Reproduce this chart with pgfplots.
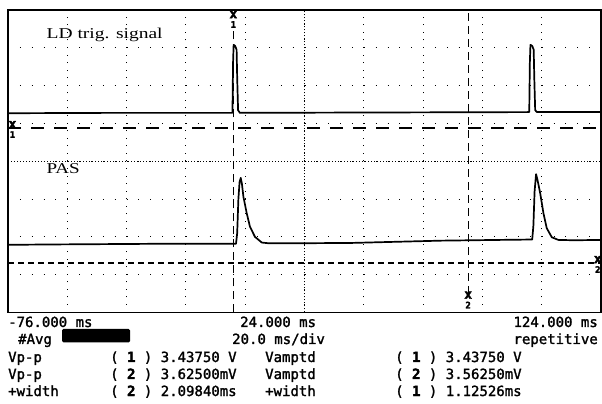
\documentclass[border=0pt]{standalone}
\usepackage{fontspec}
\setmainfont{Liberation Serif}
\newfontfamily\osc[FakeBold=1.6]{DejaVu Sans Mono}
\newfontfamily\oscb[FakeBold=2.5]{DejaVu Sans Mono Bold}
\usepackage{pgfplots}
\pgfplotsset{compat=1.18}
\newcommand{\mk}[1]{\shortstack{\fontsize{13}{10}\selectfont x\\\fontsize{9}{9}\selectfont #1}}
\newcommand{\ch}[1]{{\oscb #1}}
\begin{document}
\begin{tikzpicture}[x=1pt,y=1pt]
\useasboundingbox (0,0) rectangle (602,404);
\begin{axis}[at={(8pt,91.5pt)}, anchor=south west, scale only axis,
  width=593pt, height=302.5pt,
  xmin=-76, xmax=124, ymin=0, ymax=8,
  xtick={-56,-36,...,104}, ytick={1,2,...,7},
  xticklabels={}, yticklabels={}, major tick length=0pt,
  grid=major,
  major x grid style={black, line width=0.9pt, dash pattern=on 0.9pt off 6.66pt},
  major y grid style={black, line width=0.9pt, dash pattern=on 0.9pt off 10.96pt},
  axis line style={black, line width=1.6pt},
  clip=false]
% centre lines
\addplot[black, line width=0.6pt, dash pattern=on 1pt off 2pt] coordinates {(-76,4) (124,4)};
\addplot[black, line width=0.6pt, dash pattern=on 1pt off 2pt] coordinates {(24,0) (24,8)};
% marker lines
\addplot[black, line width=1.4pt, dash pattern=on 13pt off 10pt] coordinates {(-76,4.88) (124,4.88)};
\addplot[black, line width=1.3pt, dash pattern=on 6pt off 4pt] coordinates {(-76,1.31) (124,1.31)};
\addplot[black, line width=1.3pt, dash pattern=on 8pt off 5pt] coordinates {(0,0) (0,7.55)};
\addplot[black, line width=1.3pt, dash pattern=on 8pt off 5pt] coordinates {(79.2,0.5) (79.2,8)};
% LD trig signal
\addplot[black, line width=1.7pt, line join=round] coordinates {
(-76,5.27) (-40,5.28) (-0.3,5.28) (-0.1,6.6) (0.1,7.08) (0.6,7.05) (1.1,6.95) (1.3,6.2) (1.6,5.35) (2.2,5.28)
(50,5.29) (99.8,5.3) (100.0,6.6) (100.2,7.08) (100.8,7.05) (101.3,6.95) (101.5,6.2) (101.8,5.35) (102.4,5.3) (124,5.3)};
% PAS
\addplot[black, line width=1.7pt, line join=round] coordinates {
(-76,1.79) (-60,1.80) (-40,1.81) (-20,1.82) (0,1.82) (0.9,1.82) (1.3,2.1) (1.7,3.0) (2.1,3.45) (2.5,3.56) (2.9,3.4)
(3.4,3.06) (4.5,2.63) (5.6,2.27) (7.3,2.0) (9.6,1.85) (12,1.83) (20,1.83) (40,1.84) (55,1.87) (70,1.9) (90,1.92)
(100.8,1.93) (101.2,2.3) (101.6,3.2) (102.1,3.66) (102.6,3.5) (103.5,3.15) (104.6,2.62) (105.7,2.23) (107.4,1.99)
(109.6,1.92) (115,1.91) (124,1.92)};
% labels inside screen
\node[anchor=base west, font=\fontsize{15}{15}\selectfont, xscale=1.3] at (axis cs:-64.5,7.25) {LD trig. signal};
\node[anchor=north west, font=\fontsize{15}{15}\selectfont, xscale=1.27] at (axis cs:-64.5,4.04) {PAS};
% marker glyphs
\node[font=\oscb, inner sep=0pt] at (axis cs:0,7.75) {\mk{1}};
\node[font=\oscb, inner sep=0pt] at (axis cs:-74.5,4.84) {\mk{1}};
\node[font=\oscb, inner sep=0pt] at (axis cs:122.9,1.27) {\mk{2}};
\node[font=\oscb, inner sep=0pt] at (axis cs:79.2,0.33) {\mk{2}};
\end{axis}
\begin{scope}[font=\osc\fontsize{14}{14}\selectfont]
\node[anchor=base west, inner sep=0pt] at (8,77) {-76.000 ms};
\node[anchor=base west, inner sep=0pt] at (240,77) {24.000 ms};
\node[anchor=base east, inner sep=0pt] at (598,77) {124.000 ms};
\node[anchor=base west, inner sep=0pt] at (18,60) {\#Avg};
\fill[black, rounded corners=1.5pt] (62,61.5) rectangle (130,75);
\node[anchor=base west, inner sep=0pt] at (232,60) {20.0 ms/div};
\node[anchor=base east, inner sep=0pt] at (598,60) {repetitive};
\node[anchor=base west, inner sep=0pt] at (8,42) {Vp-p};
\node[anchor=base west, inner sep=0pt] at (110,42) {( \ch{1} ) 3.43750 V};
\node[anchor=base west, inner sep=0pt] at (265,42) {Vamptd};
\node[anchor=base west, inner sep=0pt] at (395,42) {( \ch{1} ) 3.43750 V};
\node[anchor=base west, inner sep=0pt] at (8,25) {Vp-p};
\node[anchor=base west, inner sep=0pt] at (110,25) {( \ch{2} ) 3.62500mV};
\node[anchor=base west, inner sep=0pt] at (265,25) {Vamptd};
\node[anchor=base west, inner sep=0pt] at (395,25) {( \ch{2} ) 3.56250mV};
\node[anchor=base west, inner sep=0pt] at (8,8) {+width};
\node[anchor=base west, inner sep=0pt] at (110,8) {( \ch{2} ) 2.09840ms};
\node[anchor=base west, inner sep=0pt] at (265,8) {+width};
\node[anchor=base west, inner sep=0pt] at (395,8) {( \ch{1} ) 1.12526ms};
\end{scope}
\end{tikzpicture}
\end{document}
